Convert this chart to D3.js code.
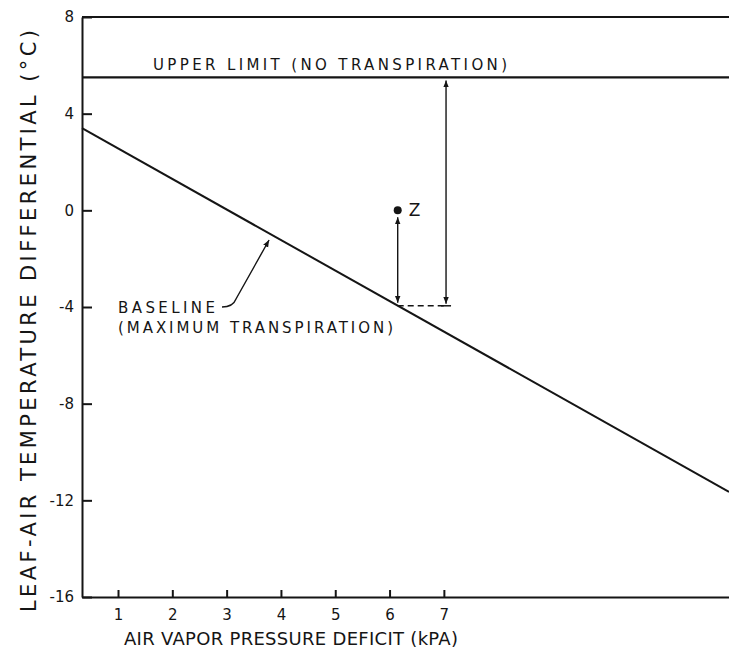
<!DOCTYPE html>
<html>
<head>
<meta charset="utf-8">
<script src="https://cdn.jsdelivr.net/npm/d3@7"></script>
<style>
  body { margin: 0; background: #fff; }
  svg { display: block; }
  text { font-family: "DejaVu Sans", sans-serif; fill: #151515; }
  .axis path, .axis line { stroke: #151515; stroke-width: 2; }
  .axis text { font-size: 15px; }
</style>
</head>
<body>
<svg id="chart"></svg>
<script>
const width = 729;
const height = 659;

// axis ticks
const xTicks = [1, 2, 3, 4, 5, 6, 7];
const yTicks = [8, 4, 0, -4, -8, -12, -16];

// x range shown (kPa) and y range (deg C)
const xExtent = [0.337, 12.25];
const yExtent = [-16, 8];

// baseline (maximum transpiration), end points of the line
const baselineVpd = [0.337, 12.25];
const baselineDiff = [3.4, -11.65];

const upperLimit = 5.5;   // no transpiration
const pointZ = { vpd: 6.15, diff: 0 };
const baselineAtZ = -3.95;
const rangeArrowVpd = 7.04;   // arrow spanning baseline to upper limit
const baselinePointer = { vpd: 3.8, diff: -0.98 };

const svg = d3.select('#chart')
    .attr('width', width)
    .attr('height', height);

const x = d3.scaleLinear().domain(xExtent).range([82, 729]);
const y = d3.scaleLinear().domain(yExtent).range([597, 17]);

// arrow heads
const defs = svg.append('defs');
defs.append('marker')
    .attr('id', 'head')
    .attr('viewBox', '0 0 10 10')
    .attr('refX', 10).attr('refY', 5)
    .attr('markerWidth', 7).attr('markerHeight', 7)
    .attr('markerUnits', 'userSpaceOnUse')
    .attr('orient', 'auto-start-reverse')
    .append('path')
    .attr('d', 'M0,1 L10,5 L0,9 Z')
    .attr('fill', '#151515');

// y axis, ticks pointing inwards
svg.append('g')
    .attr('class', 'axis')
    .attr('transform', `translate(${x(xExtent[0])},0)`)
    .call(d3.axisLeft(y).tickValues(yTicks).tickFormat(d => String(d))
        .tickSize(-10).tickSizeOuter(0).tickPadding(8));

// x axis, small ticks pointing up
svg.append('g')
    .attr('class', 'axis')
    .attr('transform', `translate(0,${y(yExtent[0])})`)
    .call(d3.axisBottom(x).tickValues(xTicks).tickSize(-7).tickSizeOuter(0).tickPadding(12));

// top frame
svg.append('line')
    .attr('x1', x(xExtent[0])).attr('x2', x(xExtent[1]))
    .attr('y1', y(yExtent[1])).attr('y2', y(yExtent[1]))
    .attr('stroke', '#151515').attr('stroke-width', 2);

// upper limit line
svg.append('line')
    .attr('x1', x(xExtent[0])).attr('x2', x(xExtent[1]))
    .attr('y1', y(upperLimit)).attr('y2', y(upperLimit))
    .attr('stroke', '#151515').attr('stroke-width', 2.2);

svg.append('text')
    .attr('x', 153).attr('y', y(upperLimit) - 7)
    .attr('font-size', 15)
    .attr('textLength', 354).attr('lengthAdjust', 'spacing')
    .text('UPPER LIMIT (NO TRANSPIRATION)');

// baseline
const line = d3.line().x(d => x(d[0])).y(d => y(d[1]));
svg.append('path')
    .attr('d', line(d3.zip(baselineVpd, baselineDiff)))
    .attr('fill', 'none')
    .attr('stroke', '#151515').attr('stroke-width', 2);

// point Z and its arrow down to the baseline
svg.append('circle')
    .attr('cx', x(pointZ.vpd)).attr('cy', y(pointZ.diff))
    .attr('r', 4).attr('fill', '#151515');
svg.append('text')
    .attr('x', x(pointZ.vpd) + 11).attr('y', y(pointZ.diff) + 6)
    .attr('font-size', 17)
    .text('Z');
svg.append('line')
    .attr('x1', x(pointZ.vpd)).attr('x2', x(pointZ.vpd))
    .attr('y1', y(baselineAtZ) - 3).attr('y2', y(pointZ.diff) + 7)
    .attr('stroke', '#151515').attr('stroke-width', 1.4)
    .attr('marker-start', 'url(#head)')
    .attr('marker-end', 'url(#head)');

// dashed link to the range arrow
svg.append('line')
    .attr('x1', x(pointZ.vpd)).attr('x2', x(rangeArrowVpd))
    .attr('y1', y(baselineAtZ)).attr('y2', y(baselineAtZ))
    .attr('stroke', '#151515').attr('stroke-width', 1.5)
    .attr('stroke-dasharray', '6,4');

// range arrow from baseline to upper limit
svg.append('line')
    .attr('x1', x(rangeArrowVpd)).attr('x2', x(rangeArrowVpd))
    .attr('y1', y(baselineAtZ) - 2).attr('y2', y(upperLimit) + 3)
    .attr('stroke', '#151515').attr('stroke-width', 1.4)
    .attr('marker-start', 'url(#head)')
    .attr('marker-end', 'url(#head)');
svg.append('line')
    .attr('x1', x(rangeArrowVpd) - 5).attr('x2', x(rangeArrowVpd) + 5)
    .attr('y1', y(baselineAtZ)).attr('y2', y(baselineAtZ))
    .attr('stroke', '#151515').attr('stroke-width', 1.5);

// baseline label with curved pointer
const tipX = x(baselinePointer.vpd);
const tipY = y(baselinePointer.diff);
svg.append('path')
    .attr('d', `M222,307 Q233,307 236,299 L${tipX - 1},${tipY + 6}`)
    .attr('fill', 'none')
    .attr('stroke', '#151515').attr('stroke-width', 1.4)
    .attr('marker-end', 'url(#head)');

svg.append('text')
    .attr('x', 118).attr('y', 313)
    .attr('font-size', 15)
    .attr('textLength', 97).attr('lengthAdjust', 'spacing')
    .text('BASELINE');
svg.append('text')
    .attr('x', 118).attr('y', 333)
    .attr('font-size', 15)
    .attr('textLength', 275).attr('lengthAdjust', 'spacing')
    .text('(MAXIMUM TRANSPIRATION)');

// axis titles
svg.append('text')
    .attr('x', 124).attr('y', 645)
    .attr('font-size', 18)
    .attr('textLength', 334).attr('lengthAdjust', 'spacing')
    .text('AIR VAPOR PRESSURE DEFICIT (kPA)');

svg.append('text')
    .attr('transform', 'translate(36,612)rotate(-90)')
    .attr('font-size', 21)
    .attr('textLength', 582).attr('lengthAdjust', 'spacing')
    .text('LEAF-AIR TEMPERATURE DIFFERENTIAL (°C)');
</script>
</body>
</html>
